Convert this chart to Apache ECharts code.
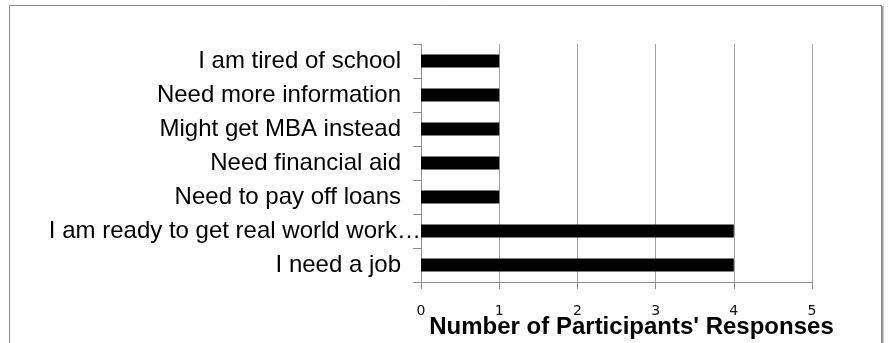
<!DOCTYPE html>
<html>
<head>
<meta charset="utf-8">
<script src="https://cdn.jsdelivr.net/npm/echarts@6/dist/echarts.min.js"></script>
<style>
  html, body { margin: 0; padding: 0; background: #fff; }
  #chart { width: 888px; height: 343px; }
</style>
</head>
<body>
<div id="chart"></div>
<script>
// Reasons given by participants (bottom to top on the axis)
const categories = [
  'I need a job',
  'I am ready to get real world work',
  'Need to pay off loans',
  'Need financial aid',
  'Might get MBA instead',
  'Need more information',
  'I am tired of school'
];
const responses = [4, 4, 1, 1, 1, 1, 1];
const truncated = ['I am ready to get real world work'];
const xTicks = [0, 1, 2, 3, 4, 5];
const axisTitle = "Number of Participants' Responses";

const chart = echarts.init(document.getElementById('chart'));

chart.setOption({
  animation: false,
  backgroundColor: '#fff',
  grid: {
    left: 421, top: 44, width: 391, height: 238,
    containLabel: false,
    outerBoundsMode: 'none'
  },
  xAxis: {
    type: 'value',
    min: xTicks[0],
    max: xTicks[xTicks.length - 1],
    interval: 1,
    axisLine: { show: true, lineStyle: { color: '#8c8c8c', width: 1 } },
    axisTick: { show: true, length: 7, lineStyle: { color: '#8c8c8c' } },
    splitLine: { show: true, lineStyle: { color: '#a0a0a0', width: 1 } },
    axisLabel: {
      margin: 22,
      color: '#111',
      fontFamily: 'DejaVu Sans',
      fontSize: 14
    },
    name: axisTitle,
    nameLocation: 'middle',
    nameGap: 33,
    nameMoveOverlap: false,
    nameTextStyle: {
      fontFamily: 'Liberation Sans',
      fontWeight: 'bold',
      fontSize: 24,
      color: '#000',
      padding: [0, 0, 0, 30]
    }
  },
  yAxis: {
    type: 'category',
    data: categories,
    axisLine: { show: true, lineStyle: { color: '#8c8c8c', width: 1 } },
    axisTick: { show: true, length: 8, lineStyle: { color: '#8c8c8c' } },
    splitLine: { show: false },
    axisLabel: {
      margin: 20,
      color: '#000',
      fontFamily: 'Liberation Sans',
      fontSize: 24,
      formatter: function (v) {
        return truncated.indexOf(v) >= 0 ? '{t|' + v + '}{e|\u2026}' : v;
      },
      rich: {
        t: { fontFamily: 'Liberation Sans', fontSize: 24, color: '#000' },
        e: { fontFamily: 'Liberation Sans', fontSize: 24, color: '#000', padding: [0, -20, 0, 0] }
      }
    }
  },
  series: [{
    type: 'bar',
    data: responses,
    barWidth: 13,
    itemStyle: { color: '#000' }
  }],
  graphic: [
    {
      type: 'rect',
      shape: { x: 9.5, y: 5.5, width: 872, height: 400 },
      style: { fill: 'none', stroke: '#8a8a8a', lineWidth: 1 },
      z: -1
    },
    {
      type: 'line',
      shape: { x1: 882.5, y1: 6, x2: 882.5, y2: 343 },
      style: { stroke: '#9a9a9a', lineWidth: 2 },
      z: -1
    }
  ]
});
</script>
</body>
</html>
